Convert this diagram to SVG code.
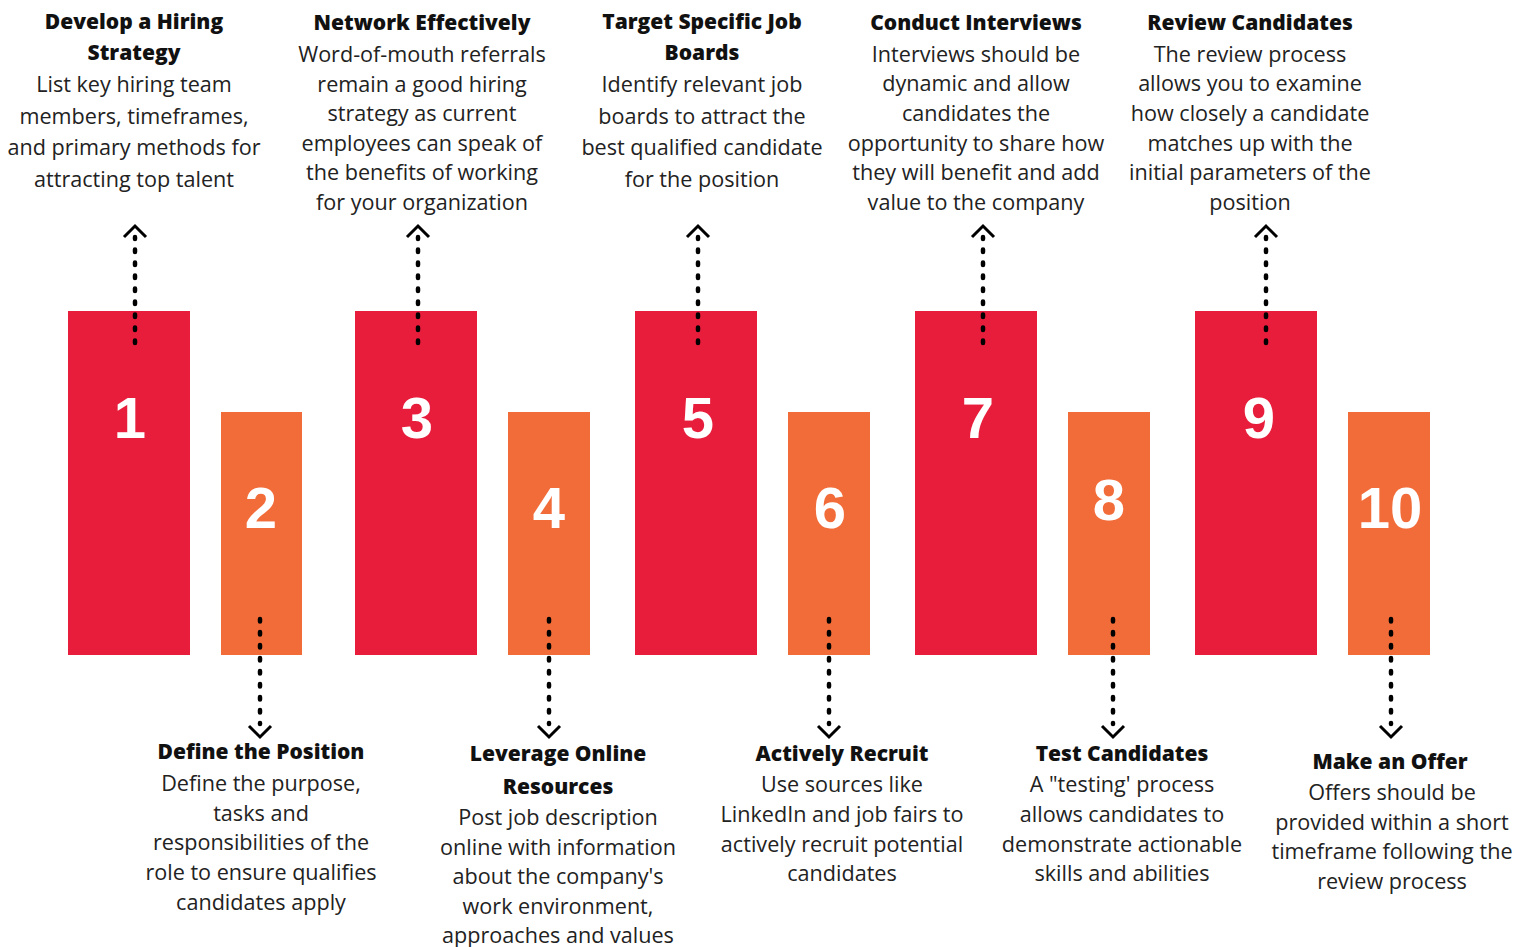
<svg xmlns="http://www.w3.org/2000/svg" width="1532" height="947" viewBox="0 0 1532 947">
<style>
.red{fill:#E81D3B}
.org{fill:#F26C39}
.num{font-family:"Liberation Sans",Arial,sans-serif;font-weight:900;font-size:58px;fill:#fff;text-anchor:middle}
.h{font-family:"Open Sans","Liberation Sans",Arial,sans-serif;font-weight:800;font-size:21px;fill:#111;text-anchor:middle}
.b{font-family:"Open Sans","Liberation Sans",Arial,sans-serif;font-size:21.6px;fill:#222;text-anchor:middle}
.dot{stroke:#000;stroke-width:4.5;stroke-linecap:round;stroke-dasharray:2.5 10.5;fill:none}
.chev{stroke:#000;stroke-width:3;fill:none;stroke-linecap:butt;stroke-linejoin:miter}
</style>
<rect width="1532" height="947" fill="#fff"/>

<g id="node1">
<rect class="red" x="68" y="311" width="122" height="344"/>
<text class="num" x="130" y="438">1</text>
<text class="h" x="134" y="29">Develop a Hiring</text>
<text class="h" x="134" y="60">Strategy</text>
<text class="b" x="134" y="92">List key hiring team</text>
<text class="b" x="134" y="124">members, timeframes,</text>
<text class="b" x="134" y="155">and primary methods for</text>
<text class="b" x="134" y="187">attracting top talent</text>
</g>

<g id="node2">
<rect class="org" x="221" y="412" width="81" height="243"/>
<text class="num" x="261" y="528">2</text>
<text class="h" x="261" y="759">Define the Position</text>
<text class="b" x="261" y="791">Define the purpose,</text>
<text class="b" x="261" y="821">tasks and</text>
<text class="b" x="261" y="850">responsibilities of the</text>
<text class="b" x="261" y="880">role to ensure qualifies</text>
<text class="b" x="261" y="910">candidates apply</text>
</g>

<g id="node3">
<rect class="red" x="355" y="311" width="122" height="344"/>
<text class="num" x="417" y="438">3</text>
<text class="h" x="422" y="30">Network Effectively</text>
<text class="b" x="422" y="62">Word-of-mouth referrals</text>
<text class="b" x="422" y="92">remain a good hiring</text>
<text class="b" x="422" y="121">strategy as current</text>
<text class="b" x="422" y="151">employees can speak of</text>
<text class="b" x="422" y="180">the benefits of working</text>
<text class="b" x="422" y="210">for your organization</text>
</g>

<g id="node4">
<rect class="org" x="508" y="412" width="82" height="243"/>
<text class="num" x="549" y="528">4</text>
<text class="h" x="558" y="761">Leverage Online</text>
<text class="h" x="558" y="794">Resources</text>
<text class="b" x="558" y="825">Post job description</text>
<text class="b" x="558" y="855">online with information</text>
<text class="b" x="558" y="884">about the company's</text>
<text class="b" x="558" y="914">work environment,</text>
<text class="b" x="558" y="943">approaches and values</text>
</g>

<g id="node5">
<rect class="red" x="635" y="311" width="122" height="344"/>
<text class="num" x="698" y="438">5</text>
<text class="h" x="702" y="29">Target Specific Job</text>
<text class="h" x="702" y="60">Boards</text>
<text class="b" x="702" y="92">Identify relevant job</text>
<text class="b" x="702" y="124">boards to attract the</text>
<text class="b" x="702" y="155">best qualified candidate</text>
<text class="b" x="702" y="187">for the position</text>
</g>

<g id="node6">
<rect class="org" x="788" y="412" width="82" height="243"/>
<text class="num" x="830" y="528">6</text>
<text class="h" x="842" y="761">Actively Recruit</text>
<text class="b" x="842" y="792">Use sources like</text>
<text class="b" x="842" y="822">LinkedIn and job fairs to</text>
<text class="b" x="842" y="852">actively recruit potential</text>
<text class="b" x="842" y="881">candidates</text>
</g>

<g id="node7">
<rect class="red" x="915" y="311" width="122" height="344"/>
<text class="num" x="978" y="438">7</text>
<text class="h" x="976" y="30">Conduct Interviews</text>
<text class="b" x="976" y="62">Interviews should be</text>
<text class="b" x="976" y="91">dynamic and allow</text>
<text class="b" x="976" y="121">candidates the</text>
<text class="b" x="976" y="151">opportunity to share how</text>
<text class="b" x="976" y="180">they will benefit and add</text>
<text class="b" x="976" y="210">value to the company</text>
</g>

<g id="node8">
<rect class="org" x="1068" y="412" width="82" height="243"/>
<text class="num" x="1109" y="520">8</text>
<text class="h" x="1122" y="761">Test Candidates</text>
<text class="b" x="1122" y="792">A "testing' process</text>
<text class="b" x="1122" y="822">allows candidates to</text>
<text class="b" x="1122" y="852">demonstrate actionable</text>
<text class="b" x="1122" y="881">skills and abilities</text>
</g>

<g id="node9">
<rect class="red" x="1195" y="311" width="122" height="344"/>
<text class="num" x="1259" y="438">9</text>
<text class="h" x="1250" y="30">Review Candidates</text>
<text class="b" x="1250" y="62">The review process</text>
<text class="b" x="1250" y="91">allows you to examine</text>
<text class="b" x="1250" y="121">how closely a candidate</text>
<text class="b" x="1250" y="151">matches up with the</text>
<text class="b" x="1250" y="180">initial parameters of the</text>
<text class="b" x="1250" y="210">position</text>
</g>

<g id="node10">
<rect class="org" x="1348" y="412" width="82" height="243"/>
<text class="num" x="1390" y="528">10</text>
<text class="h" x="1390" y="769">Make an Offer</text>
<text class="b" x="1392" y="800">Offers should be</text>
<text class="b" x="1392" y="830">provided within a short</text>
<text class="b" x="1392" y="859">timeframe following the</text>
<text class="b" x="1392" y="889">review process</text>
</g>

<g id="connectors">
<path class="dot" d="M135 343V237"/><polyline class="chev" points="124,237 135,226 146,237"/>
<path class="dot" d="M418 343V237"/><polyline class="chev" points="407,237 418,226 429,237"/>
<path class="dot" d="M698 343V237"/><polyline class="chev" points="687,237 698,226 709,237"/>
<path class="dot" d="M983 343V237"/><polyline class="chev" points="972,237 983,226 994,237"/>
<path class="dot" d="M1266 343V237"/><polyline class="chev" points="1255,237 1266,226 1277,237"/>
<path class="dot" d="M260 619V724"/><polyline class="chev" points="249,726 260,737 271,726"/>
<path class="dot" d="M549 619V724"/><polyline class="chev" points="538,726 549,737 560,726"/>
<path class="dot" d="M829 619V724"/><polyline class="chev" points="818,726 829,737 840,726"/>
<path class="dot" d="M1113 619V724"/><polyline class="chev" points="1102,726 1113,737 1124,726"/>
<path class="dot" d="M1391 619V724"/><polyline class="chev" points="1380,726 1391,737 1402,726"/>
</g>
</svg>
